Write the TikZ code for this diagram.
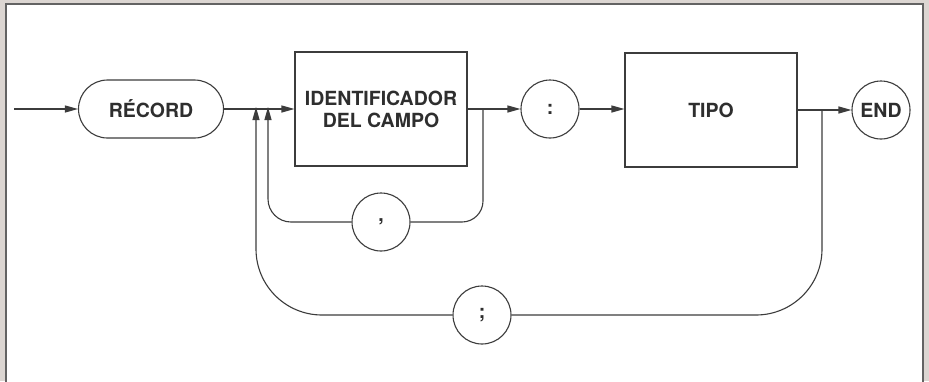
\documentclass[tikz,border=0pt]{standalone}
\usepackage{fontspec}
\setmainfont{TeX Gyre Heros}
\usetikzlibrary{arrows.meta}
\definecolor{ink}{HTML}{3C3C3C}
\definecolor{txt}{HTML}{2E2E2E}
\definecolor{paper}{HTML}{DCD6D2}
\begin{document}
\begin{tikzpicture}[x=1pt,y=-1pt,
  every node/.style={font=\fontsize{19.5}{22}\selectfont\bfseries, text=txt},
  conn/.style={draw=ink, line width=1.1pt},
  arr/.style={conn, -{Triangle[length=13pt,width=7pt]}},
  box/.style={draw=ink, line width=1.1pt, minimum width=172pt, minimum height=114pt, align=center, inner sep=0pt},
  term/.style={draw=ink, line width=1.1pt, circle, minimum size=58pt, inner sep=0pt},
  pill/.style={draw=ink, line width=1.1pt, rounded corners=29pt, minimum width=145pt, minimum height=58pt, inner sep=0pt}]
\useasboundingbox (0,0) rectangle (929,381);
\fill[paper] (0,0) rectangle (929,381);
\fill[white, draw=ink!80, line width=2pt] (6,4) rectangle (923,390);

\coordinate (start) at (14,109);
\node[pill] (rec) at (151,109) {RÉCORD};
\node[box] (id) at (381,109) {IDENTIFICADOR\\DEL CAMPO};
\node[term] (colon) at (550,109) {:};
\node[box] (tipo) at (711,110) {TIPO};
\node[term] (end) at (881,110) {END};
\node[term] (comma) at (381,222) {,};
\node[term] (semi) at (482,315) {;};

\coordinate (j1) at (256,109);
\coordinate (j2) at (268,109);
\coordinate (k1) at (483,109);
\coordinate (k2) at (822,110);

\draw[arr] (start) -- (rec.west);
\draw[arr] (rec.east) -- (id.west);
\draw[arr] (id.east) -- (colon.west);
\draw[arr] (colon.east) -- (colon.east -| tipo.west);
\draw[arr] (tipo.east |- end.west) -- (end.west);

\draw[conn, rounded corners=21pt] (k1) |- (comma.east);
\draw[arr, rounded corners=23pt] (comma.west) -| ([yshift=2pt]j2);
\draw[conn, rounded corners=66pt] (k2) |- (semi.east);
\draw[arr, rounded corners=66pt] (semi.west) -| ([yshift=2pt]j1);
\end{tikzpicture}
\end{document}
